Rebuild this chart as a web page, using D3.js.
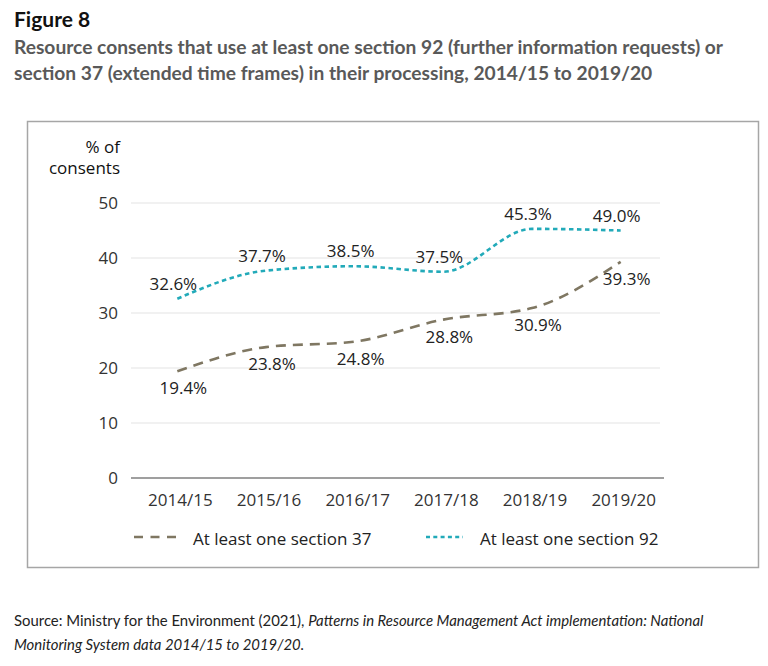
<!DOCTYPE html>
<html>
<head>
<meta charset="utf-8">
<script src="https://cdn.jsdelivr.net/npm/d3@7"></script>
<style>
  body { margin: 0; background: #fff; }
  svg text { font-family: "Open Sans", sans-serif; }
</style>
</head>
<body>
<div id="chart"></div>
<script>
// chart data
var years = ["2014/15", "2015/16", "2016/17", "2017/18", "2018/19", "2019/20"];
var s37 = [19.4, 23.8, 24.8, 28.8, 30.9, 39.3];
var s92 = [32.6, 37.7, 38.5, 37.5, 45.3, 45.0];
var s37Labels = ["19.4%", "23.8%", "24.8%", "28.8%", "30.9%", "39.3%"];
var s92Labels = ["32.6%", "37.7%", "38.5%", "37.5%", "45.3%", "49.0%"];
var yTicks = [0, 10, 20, 30, 40, 50];
var seriesNames = ["At least one section 37", "At least one section 92"];

var W = 768, H = 666;
var brown = "#7f7762", teal = "#22aab9";

var svg = d3.select("#chart").append("svg")
    .attr("width", W)
    .attr("height", H);

// headings
svg.append("text")
    .attr("x", 14).attr("y", 27)
    .style("font-family", "Lato, sans-serif")
    .style("font-weight", "bold")
    .style("font-size", "21px")
    .attr("fill", "#111")
    .text("Figure 8");

var sub = ["Resource consents that use at least one section 92 (further information requests) or",
           "section 37 (extended time frames) in their processing, 2014/15 to 2019/20"];
svg.selectAll("text.sub")
        .data(sub).enter()
    .append("text")
        .attr("class", "sub")
        .attr("x", 14)
        .attr("y", (d, i) => 54 + i * 26)
        .style("font-family", "Lato, sans-serif")
        .style("font-weight", "bold")
        .style("font-size", "19.2px")
        .attr("fill", "#595959")
        .text(d => d);

// frame
svg.append("rect")
    .attr("x", 27.5).attr("y", 121.5)
    .attr("width", 731).attr("height", 446)
    .attr("fill", "none")
    .attr("stroke", "#a6a6a6")
    .attr("stroke-width", 1.5);

// scales
var x = d3.scalePoint().domain(years).range([133, 665]).padding(0.5);
var y = d3.scaleLinear().domain([0, 50]).range([478, 203]);

// gridlines
svg.selectAll("line.grid")
        .data(yTicks.filter(d => d > 0)).enter()
    .append("line")
        .attr("x1", 131).attr("x2", 660)
        .attr("y1", d => y(d)).attr("y2", d => y(d))
        .attr("stroke", "#e3e3e3")
        .attr("stroke-width", 1);

// x axis line
svg.append("line")
    .attr("x1", 131).attr("x2", 664)
    .attr("y1", y(0)).attr("y2", y(0))
    .attr("stroke", "#7f7f7f")
    .attr("stroke-width", 1.3);

// y tick labels
svg.selectAll("text.ytick")
        .data(yTicks).enter()
    .append("text")
        .attr("x", 118)
        .attr("y", d => y(d) + 6)
        .style("text-anchor", "end")
        .style("font-size", "17px")
        .attr("fill", "#333")
        .text(d => d);

// x tick labels
svg.selectAll("text.xtick")
        .data(years).enter()
    .append("text")
        .attr("x", d => x(d) + 3)
        .attr("y", 506)
        .style("text-anchor", "middle")
        .style("font-size", "17px")
        .attr("fill", "#333")
        .text(d => d);

// y axis title
svg.selectAll("text.ytitle")
        .data(["% of", "consents"]).enter()
    .append("text")
        .attr("x", 120)
        .attr("y", (d, i) => 153 + i * 21)
        .style("text-anchor", "end")
        .style("font-size", "17px")
        .attr("fill", "#111")
        .text(d => d);

// lines
var line = d3.line()
    .x((d, i) => x(years[i]))
    .y(d => y(d))
    .curve(d3.curveMonotoneX);

svg.append("path")
    .attr("d", line(s37))
    .attr("fill", "none")
    .attr("stroke", brown)
    .attr("stroke-width", 2.6)
    .attr("stroke-dasharray", "10,7");

svg.append("path")
    .attr("d", line(s92))
    .attr("fill", "none")
    .attr("stroke", teal)
    .attr("stroke-width", 2.6)
    .attr("stroke-dasharray", "4.5,3.5");

// data labels
svg.selectAll("text.l37")
        .data(s37).enter()
    .append("text")
        .attr("x", (d, i) => x(years[i]) + 6)
        .attr("y", d => y(d) + 23)
        .style("text-anchor", "middle")
        .style("font-size", "17px")
        .attr("fill", "#222")
        .text((d, i) => s37Labels[i]);

svg.selectAll("text.l92")
        .data(s92).enter()
    .append("text")
        .attr("x", (d, i) => x(years[i]) - 4)
        .attr("y", d => y(d) - 9)
        .style("text-anchor", "middle")
        .style("font-size", "17px")
        .attr("fill", "#222")
        .text((d, i) => s92Labels[i]);

// legend
var legend = [
    {name: seriesNames[0], color: brown, dash: "9,7.5", x0: 134, x1: 177, tx: 193},
    {name: seriesNames[1], color: teal, dash: "4,3.3", x0: 426, x1: 463, tx: 480}
];
legend.forEach(l => {
    svg.append("line")
        .attr("x1", l.x0).attr("x2", l.x1)
        .attr("y1", 537).attr("y2", 537)
        .attr("stroke", l.color)
        .attr("stroke-width", 2.6)
        .attr("stroke-dasharray", l.dash);
    svg.append("text")
        .attr("x", l.tx).attr("y", 545)
        .style("font-size", "17px")
        .attr("fill", "#222")
        .text(l.name);
});

// source note
var src = svg.append("text")
    .attr("x", 14).attr("y", 626)
    .style("font-family", "Lato, sans-serif")
    .style("font-size", "14.9px")
    .attr("fill", "#222");
src.append("tspan").text("Source: Ministry for the Environment (2021), ");
src.append("tspan").style("font-style", "italic")
    .text("Patterns in Resource Management Act implementation: National");
svg.append("text")
    .attr("x", 14).attr("y", 650)
    .style("font-family", "Lato, sans-serif")
    .style("font-size", "14.9px")
    .style("font-style", "italic")
    .attr("fill", "#222")
    .text("Monitoring System data 2014/15 to 2019/20.");
</script>
</body>
</html>
